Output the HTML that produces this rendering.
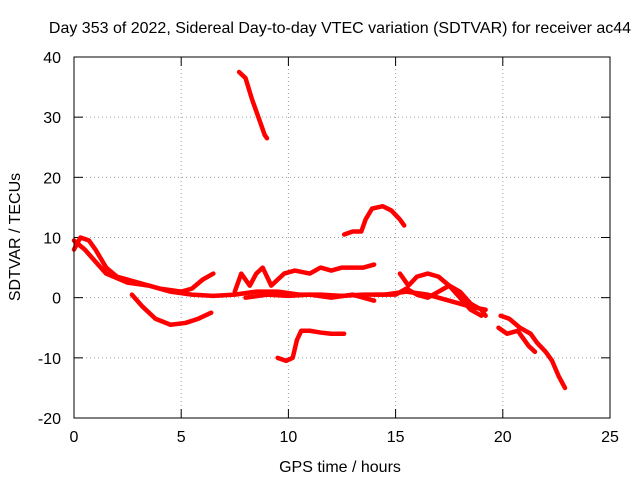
<!DOCTYPE html>
<html><head><meta charset="utf-8"><style>
body{margin:0;background:#fff}
svg{display:block;font-family:"Liberation Sans",sans-serif;font-size:16px}
</style></head><body>
<svg id="c" width="640" height="480">
<text x="340" y="33" text-anchor="middle">Day 353 of 2022, Sidereal Day-to-day VTEC variation (SDTVAR) for receiver ac44</text>
<text x="340" y="472" text-anchor="middle">GPS time / hours</text>
<text transform="translate(20,237) rotate(-90)" text-anchor="middle">SDTVAR / TECUs</text>
<g id="grid"></g><g id="ticks"></g><g id="marks"></g>
<rect x="74" y="57" width="536" height="361" fill="none" stroke="#000"/>
</svg>
<script>
const xTicks=[0,5,10,15,20,25];
const yTicks=[-20,-10,0,10,20,30,40];
const trackA=[[7.7,37.5],[8.0,36.5],[8.3,33],[8.6,30],[8.9,27],[9.0,26.5]];
const trackB=[[12.6,10.5],[13.0,11],[13.4,11],[13.6,13],[13.9,14.8],[14.4,15.2],[14.8,14.5],[15.2,13],[15.4,12]];
const trackC=[[9.5,-10],[9.9,-10.5],[10.2,-10],[10.4,-7],[10.6,-5.5],[11.0,-5.5],[11.5,-5.8],[12.0,-6],[12.6,-6]];
const trackD=[[2.7,0.5],[3.2,-1.5],[3.8,-3.5],[4.5,-4.5],[5.2,-4.2],[5.8,-3.5],[6.4,-2.5]];
const trackE=[[0,8],[0.3,10],[0.7,9.5],[1.0,8],[1.5,5],[2.0,3.5],[3,2.5],[4,1.5],[5,1],[5.5,1.5],[6,3],[6.5,4]];
const trackF=[[0,9.5],[0.5,8],[1.0,6],[1.5,4],[2.5,2.5],[3.5,2],[4.5,1],[5.5,0.5],[6.5,0.3],[7.5,0.5],[8.5,1],[9.5,1],[10.5,0.5],[11.5,0.5],[12.5,0.3],[13.5,0.5],[14.5,0.5],[15.5,1],[16.5,0.5],[17.5,-0.5],[18.5,-1.5],[19.2,-2]];
const trackG=[[7.5,1],[7.8,4],[8.2,2],[8.5,4],[8.8,5],[9.2,2],[9.8,4],[10.3,4.5],[11,4],[11.5,5],[12,4.5],[12.5,5],[13,5],[13.5,5],[14,5.5]];
const trackH=[[15.2,4],[15.6,2],[16,3.5],[16.5,4],[17,3.5],[17.5,2],[18,0],[18.5,-2],[19,-3]];
const trackI=[[14,0.5],[15,0.5],[15.5,1.5],[16,0.5],[16.5,0],[17,1],[17.5,2],[18,1],[18.5,-1],[19,-2],[19.2,-3]];
const trackJ=[[19.9,-3],[20.3,-3.5],[20.8,-5],[21.3,-6],[21.6,-7.5],[22.0,-9],[22.3,-10.5],[22.6,-13],[22.9,-15]];
const trackK=[[19.8,-5],[20.2,-6],[20.7,-5.5],[21.2,-8],[21.5,-9]];
const trackL=[[8,0],[9,0.5],[10,0.3],[11,0.5],[12,0],[13,0.5],[14,-0.5]];
const tracks=[trackA,trackB,trackC,trackD,trackE,trackF,trackG,trackH,trackI,trackJ,trackK,trackL];
const X=v=>74+v/25*536, Y=v=>418-(v+20)/60*361;
const NS="http://www.w3.org/2000/svg";
function mk(t,a,p){const e=document.createElementNS(NS,t);for(const k in a)e.setAttribute(k,a[k]);p.appendChild(e);return e;}
const g=document.getElementById('grid'),tk=document.getElementById('ticks'),m=document.getElementById('marks');
xTicks.forEach(v=>{const x=X(v);
 if(v>0&&v<25){const l=mk('line',{x1:x,x2:x,y1:57,y2:418,stroke:'#a0a0a0','stroke-dasharray':'1,3'},g);
 }
 mk('line',{x1:x,x2:x,y1:418,y2:409,stroke:'#000'},tk);mk('line',{x1:x,x2:x,y1:57,y2:66,stroke:'#000'},tk);
 const t=mk('text',{x:x,y:442,'text-anchor':'middle'},tk);t.textContent=v;
 });
yTicks.forEach(v=>{const y=Y(v);
 if(v>-20&&v<40){const l=mk('line',{x1:74,x2:610,y1:y,y2:y,stroke:'#a0a0a0','stroke-dasharray':'1,3'},g);
 }
 mk('line',{x1:74,x2:83,y1:y,y2:y,stroke:'#000'},tk);mk('line',{x1:610,x2:601,y1:y,y2:y,stroke:'#000'},tk);
 const t=mk('text',{x:61,y:y+6,'text-anchor':'end'},tk);t.textContent=v;
 });
tracks.forEach(tr=>{
 const p=mk('polyline',{points:tr.map(d=>X(d[0])+','+Y(d[1])).join(' '),fill:'none',stroke:'#f00','stroke-width':4.5,'stroke-linejoin':'round','stroke-linecap':'round'},m);
 
});
</script>
</body></html>
